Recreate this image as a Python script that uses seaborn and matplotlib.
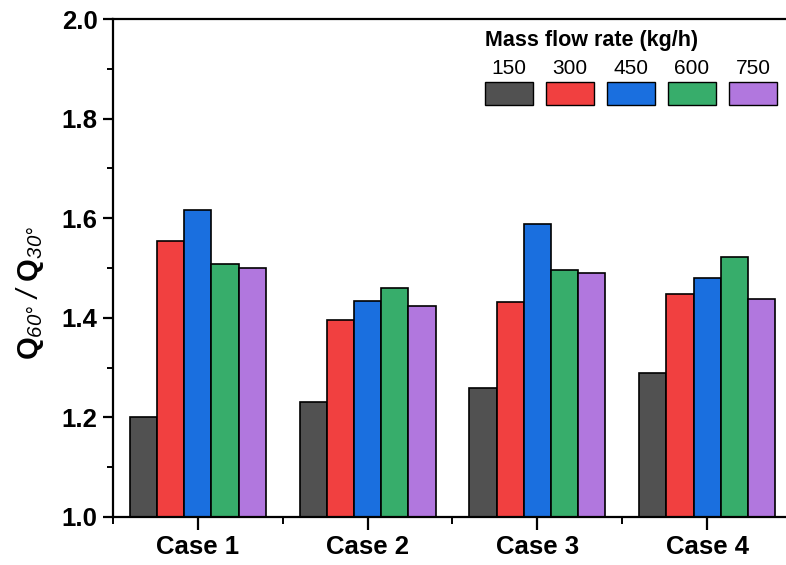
import numpy as np
import pandas as pd
import matplotlib
matplotlib.use("Agg")
import matplotlib.pyplot as plt
from matplotlib.patches import Rectangle
from matplotlib.offsetbox import (TextArea, DrawingArea, HPacker, VPacker,
                                  AnchoredOffsetbox)
from matplotlib.ticker import MultipleLocator, FixedLocator
import seaborn as sns

# Ratio of heat transfer at 60° to 30° for each case and mass flow rate
cases = ["Case 1", "Case 2", "Case 3", "Case 4"]
flow_rates = ["150", "300", "450", "600", "750"]
ratio_150 = [1.200, 1.230, 1.260, 1.289]
ratio_300 = [1.554, 1.396, 1.431, 1.448]
ratio_450 = [1.617, 1.433, 1.589, 1.480]
ratio_600 = [1.509, 1.460, 1.496, 1.522]
ratio_750 = [1.501, 1.424, 1.490, 1.438]
colors = ["#515151", "#F14040", "#1A6FDF", "#37AD6B", "#B177DE"]

series = [ratio_150, ratio_300, ratio_450, ratio_600, ratio_750]
df = pd.DataFrame({
    "case": [c for _ in flow_rates for c in cases],
    "rate": [r for r in flow_rates for _ in cases],
    "ratio": [v for s in series for v in s],
})

sns.set_style("ticks")
plt.rcParams["font.family"] = ["Liberation Sans", "DejaVu Sans"]
plt.rcParams["mathtext.fontset"] = "custom"
plt.rcParams["mathtext.bf"] = "Liberation Sans:bold"
plt.rcParams["mathtext.it"] = "Liberation Sans:italic"
# digits and symbols in the axis label are set in italic
plt.rcParams["mathtext.rm"] = "Liberation Sans:italic"
for key in ["text.color", "axes.labelcolor", "xtick.color", "ytick.color",
            "axes.edgecolor"]:
    plt.rcParams[key] = "black"

W, H = 786, 565
fig = plt.figure(figsize=(W / 100, H / 100), dpi=100)
ax = fig.add_axes([113 / W, (H - 517) / H, (792 - 113) / W, (517 - 19) / H])

sns.barplot(data=df, x="case", y="ratio", hue="rate", order=cases,
            hue_order=flow_rates, palette=colors, width=0.8, gap=0,
            edgecolor="black", linewidth=1.2, saturation=1, errorbar=None,
            legend=False, ax=ax)

ax.set_xlim(-0.5, 3.5)
ax.set_ylim(1.0, 2.0)
ax.yaxis.set_minor_locator(MultipleLocator(0.1))
ax.xaxis.set_minor_locator(FixedLocator([-0.5, 0.5, 1.5, 2.5, 3.5]))
yt = np.arange(1.0, 2.01, 0.2)
ax.set_yticks(yt)
ax.set_yticklabels([f"{v:.1f}" for v in yt])

for s in ax.spines.values():
    s.set_linewidth(1.6)
    s.set_color("black")
    s.set_visible(True)

ax.tick_params(axis="both", which="major", direction="out", width=1.6,
               color="black", labelcolor="black", labelsize=18.5, pad=4)
ax.tick_params(axis="y", which="major", length=7)
ax.tick_params(axis="y", which="minor", length=4.5, width=1.4)
ax.tick_params(axis="x", which="major", length=9)
ax.tick_params(axis="x", which="minor", length=5, width=1.4)
for lab in ax.get_xticklabels() + ax.get_yticklabels():
    lab.set_fontweight("bold")

ax.set_xlabel("")
ax.set_ylabel(r"$\mathbf{Q}_{60°}\ /\ \mathbf{Q}_{30°}$",
              fontsize=21, color="black")
ax.yaxis.set_label_coords(-0.098, 0.45)

# Legend: title row, then a numeric label above each colour swatch
sw_w, sw_h = 48 * 0.72, 23 * 0.72
cols = []
for lab, col in zip(flow_rates, colors):
    da = DrawingArea(sw_w, sw_h, 0, 0)
    da.add_artist(Rectangle((0, 0), sw_w, sw_h, facecolor=col,
                            edgecolor="black", linewidth=1.0))
    txt = TextArea(lab, textprops=dict(fontsize=15, color="black"))
    cols.append(VPacker(children=[txt, da], align="center", pad=0, sep=2.5))
row = HPacker(children=cols, align="bottom", pad=0, sep=13 * 0.72)
title = TextArea("Mass flow rate (kg/h)",
                 textprops=dict(fontsize=15.5, fontweight="bold",
                                color="black"))
box = VPacker(children=[title, row], align="left", pad=0, sep=6)
anchored = AnchoredOffsetbox(loc="upper left", child=box, pad=0,
                             borderpad=0, frameon=False,
                             bbox_to_anchor=(485 / W, 1 - 30 / H),
                             bbox_transform=fig.transFigure)
ax.add_artist(anchored)

fig.savefig("out.png", dpi=100)
